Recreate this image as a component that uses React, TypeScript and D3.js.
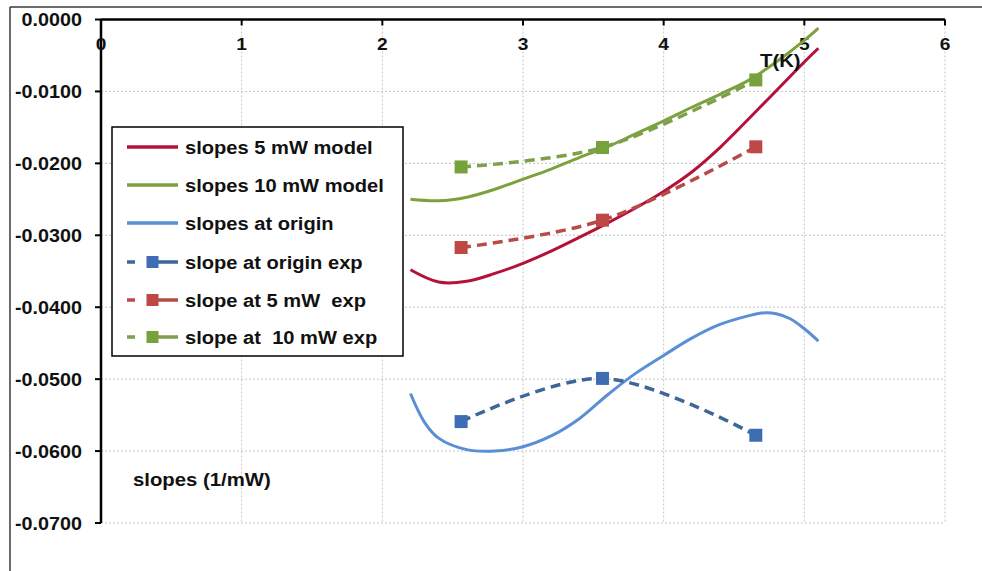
import React from "react";
import * as d3 from "d3";

const xTicks = [0, 1, 2, 3, 4, 5, 6];
const yTicks = [0, -0.01, -0.02, -0.03, -0.04, -0.05, -0.06, -0.07];
const yTickLabels = ["0.0000", "-0.0100", "-0.0200", "-0.0300", "-0.0400", "-0.0500", "-0.0600", "-0.0700"];

const modelT = [2.2, 2.4, 2.6, 2.8, 3.0, 3.2, 3.4, 3.6, 3.8, 4.0, 4.2, 4.4, 4.6, 4.8, 5.0, 5.1];
const model5 = [-0.0348, -0.0365, -0.0364, -0.0353, -0.0339, -0.0322, -0.0303, -0.0283, -0.0262, -0.0239, -0.0212, -0.0178, -0.0139, -0.0099, -0.0059, -0.0040];
const model10 = [-0.0250, -0.0252, -0.0247, -0.0236, -0.0222, -0.0208, -0.0192, -0.0177, -0.0159, -0.0141, -0.0122, -0.0104, -0.0085, -0.0059, -0.0029, -0.0012];
const originT = [2.2, 2.3, 2.4, 2.6, 2.8, 3.0, 3.2, 3.4, 3.6, 3.8, 4.0, 4.2, 4.4, 4.6, 4.7, 4.8, 4.9, 5.0, 5.1];
const modelOrigin = [-0.0520, -0.0560, -0.0582, -0.0598, -0.0600, -0.0594, -0.0579, -0.0555, -0.0522, -0.0492, -0.0467, -0.0443, -0.0424, -0.0412, -0.0408, -0.0409, -0.0416, -0.0430, -0.0447];

const expT = [2.56, 3.565, 4.655];
const expOrigin = [-0.0559, -0.0499, -0.0578];
const exp5 = [-0.0317, -0.0279, -0.0177];
const exp10 = [-0.0205, -0.0178, -0.0084];

const legendLabels = [
  "slopes 5 mW model",
  "slopes 10 mW model",
  "slopes at origin",
  "slope at origin exp",
  "slope at 5 mW  exp",
  "slope at  10 mW exp",
];

const C = {
  red: "#B5123A",
  green: "#7BA23F",
  blue: "#5A8FD6",
  blueExpLine: "#3D6699",
  blueExpMark: "#3E6DB3",
  redExpLine: "#B84B48",
  redExpMark: "#BE4845",
  greenExpLine: "#7FA04A",
  greenExpMark: "#77A13A",
};

const FONT = "'Liberation Sans', Arial, sans-serif";
const SX = 1.13;

function T({ x, y, anchor = "start", size = 18, children }: any) {
  return (
    <text
      transform={`translate(${x},${y}) scale(${SX},1)`}
      textAnchor={anchor}
      fontFamily={FONT}
      fontWeight="bold"
      fontSize={size}
      fill="#111"
      style={{ whiteSpace: "pre" }}
    >
      {children}
    </text>
  );
}

export default function App() {
  const x = d3.scaleLinear().domain([0, 6]).range([101, 945]);
  const y = d3.scaleLinear().domain([0, -0.07]).range([19.5, 523]);

  const smooth = d3
    .line<[number, number]>()
    .x((d) => x(d[0]))
    .y((d) => y(d[1]))
    .curve(d3.curveCatmullRom.alpha(0.5));

  const zip = (a: number[], b: number[]) => a.map((v, i) => [v, b[i]] as [number, number]);

  const models = [
    { t: modelT, v: model5, color: C.red },
    { t: modelT, v: model10, color: C.green },
    { t: originT, v: modelOrigin, color: C.blue },
  ];
  const exps = [
    { v: expOrigin, line: C.blueExpLine, mark: C.blueExpMark },
    { v: exp5, line: C.redExpLine, mark: C.redExpMark },
    { v: exp10, line: C.greenExpLine, mark: C.greenExpMark },
  ];

  const ms = 13;
  const legendRows = [147, 185, 223, 262, 300, 337];
  const legendStyles = [
    { color: C.red, exp: false },
    { color: C.green, exp: false },
    { color: C.blue, exp: false },
    { color: C.blueExpLine, mark: C.blueExpMark, exp: true },
    { color: C.redExpLine, mark: C.redExpMark, exp: true },
    { color: C.greenExpLine, mark: C.greenExpMark, exp: true },
  ];

  return (
    <svg
      width={982}
      height={571}
      style={{ position: "absolute", left: 0, top: 0, display: "block", background: "#fff" }}
    >
      <rect x={0} y={0} width={982} height={571} fill="#fff" />
      {/* outer frame */}
      <line x1={10} y1={7} x2={982} y2={7} stroke="#3a3a3a" strokeWidth={1.5} />
      <line x1={10} y1={7} x2={10} y2={571} stroke="#3a3a3a" strokeWidth={1.5} />

      {/* gridlines */}
      {xTicks.slice(1).map((t) => (
        <line key={"gx" + t} x1={x(t)} x2={x(t)} y1={y(0)} y2={y(-0.07)} stroke="#c4c4c4" strokeWidth={1} strokeDasharray="2,2" />
      ))}
      {yTicks.slice(1).map((t) => (
        <line key={"gy" + t} x1={x(0)} x2={x(6)} y1={y(t)} y2={y(t)} stroke="#c4c4c4" strokeWidth={1} strokeDasharray="2,2" />
      ))}

      {/* axes */}
      <line x1={x(0)} x2={x(6)} y1={y(0)} y2={y(0)} stroke="#000" strokeWidth={2.5} />
      <line x1={x(0)} x2={x(0)} y1={y(0)} y2={y(-0.07)} stroke="#000" strokeWidth={2.5} />
      {xTicks.map((t) => (
        <line key={"tx" + t} x1={x(t)} x2={x(t)} y1={y(0)} y2={y(0) + 6} stroke="#000" strokeWidth={2} />
      ))}
      {yTicks.map((t) => (
        <line key={"ty" + t} x1={x(0) - 6} x2={x(0)} y1={y(t)} y2={y(t)} stroke="#000" strokeWidth={2} />
      ))}
      {xTicks.map((t) => (
        <T key={"lx" + t} x={x(t)} y={50} anchor="middle" size={17}>
          {String(t)}
        </T>
      ))}
      {yTicks.map((t, i) => (
        <T key={"ly" + t} x={82} y={y(t) + 6.5} anchor="end" size={17.5}>
          {yTickLabels[i]}
        </T>
      ))}

      {/* model lines */}
      {models.map((m, i) => (
        <path key={"m" + i} d={smooth(zip(m.t, m.v)) || ""} fill="none" stroke={m.color} strokeWidth={3} />
      ))}

      {/* exp lines */}
      {exps.map((e, i) => (
        <g key={"e" + i}>
          <path d={smooth(zip(expT, e.v)) || ""} fill="none" stroke={e.line} strokeWidth={3.5} strokeDasharray="10,6" />
          {expT.map((t, j) => (
            <rect key={j} x={x(t) - ms / 2} y={y(e.v[j]) - ms / 2} width={ms} height={ms} fill={e.mark} />
          ))}
        </g>
      ))}

      {/* axis titles */}
      <T x={760} y={67}>T(K)</T>
      <T x={133} y={486}>slopes (1/mW)</T>

      {/* legend */}
      <rect x={112} y={127} width={291} height={229} fill="#fff" stroke="#000" strokeWidth={1.5} />
      {legendLabels.map((lab, i) => {
        const s: any = legendStyles[i];
        const ly = legendRows[i];
        return (
          <g key={"lg" + i}>
            {s.exp ? (
              <>
                <line x1={127} x2={178} y1={ly} y2={ly} stroke={s.color} strokeWidth={3.5} strokeDasharray="8,17,26" />
                <rect x={152.5 - 6} y={ly - 6} width={12} height={12} fill={s.mark} />
              </>
            ) : (
              <line x1={127} x2={178} y1={ly} y2={ly} stroke={s.color} strokeWidth={3.5} />
            )}
            <T x={185} y={ly + 6.5} size={17.8}>
              {lab}
            </T>
          </g>
        );
      })}
    </svg>
  );
}
